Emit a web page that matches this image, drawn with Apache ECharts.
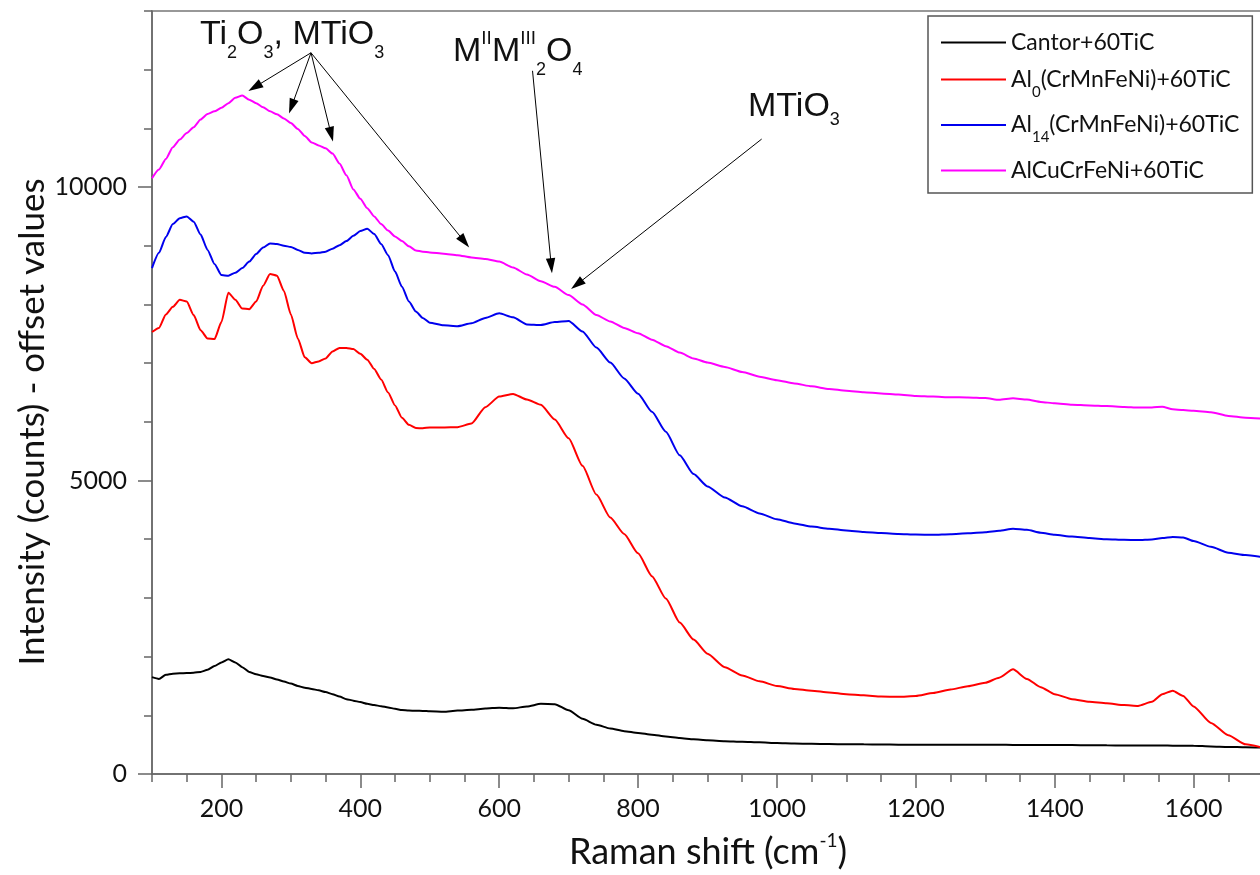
<!DOCTYPE html>
<html>
<head>
<meta charset="utf-8">
<title>Raman spectra</title>
<script src="https://cdn.jsdelivr.net/npm/echarts@6/dist/echarts.min.js"></script>
<style>
  html, body { margin: 0; padding: 0; background: #fff; }
  #chart { width: 1260px; height: 875px; }
</style>
</head>
<body>
<div id="chart"></div>
<script>
// Raman shift (cm-1), shared by all four spectra
const ramanShift = [
  100, 110, 120, 130, 140, 150, 160, 170, 180, 190,
  200, 210, 220, 230, 240, 250, 260, 270, 280, 290,
  300, 310, 320, 330, 340, 350, 360, 370, 380, 390,
  400, 410, 420, 430, 440, 450, 460, 470, 480, 490,
  500, 520, 540, 560, 580, 600, 620, 640, 660, 680,
  700, 720, 740, 760, 780, 800, 820, 840, 860, 880,
  900, 925, 950, 975, 1000, 1025, 1050, 1075, 1100, 1125,
  1150, 1175, 1200, 1225, 1250, 1275, 1300, 1320, 1340, 1360,
  1380, 1400, 1425, 1450, 1475, 1500, 1520, 1540, 1555, 1570,
  1585, 1600, 1625, 1650, 1675, 1700
];

// intensities (counts, offset)
const cantor = [
  1650, 1620, 1690, 1710, 1715, 1720, 1725, 1740, 1775, 1840,
  1900, 1955, 1900, 1820, 1740, 1700, 1670, 1645, 1610, 1575,
  1540, 1500, 1470, 1450, 1425, 1395, 1360, 1320, 1275, 1250,
  1225, 1195, 1175, 1155, 1135, 1110, 1090, 1080, 1078, 1075,
  1068, 1062, 1080, 1095, 1115, 1130, 1120, 1150, 1195, 1190,
  1085, 940, 840, 775, 730, 700, 670, 640, 615, 590,
  575, 560, 550, 540, 528, 520, 515, 510, 508, 505,
  503, 500, 500, 500, 500, 498, 498, 497, 496, 495,
  494, 493, 492, 490, 488, 487, 485, 485, 484, 483,
  482, 480, 470, 462, 455, 450
];
const al0 = [
  7530, 7600, 7830, 7960, 8080, 8050, 7820, 7560, 7420, 7410,
  7700, 8200, 8080, 7930, 7920, 8050, 8320, 8520, 8490, 8230,
  7830, 7420, 7100, 7000, 7030, 7080, 7200, 7260, 7260, 7240,
  7160, 7060, 6900, 6720, 6500, 6280, 6070, 5950, 5895, 5890,
  5905, 5905, 5910, 5970, 6250, 6430, 6475, 6380, 6290, 6040,
  5720, 5250, 4760, 4370, 4090, 3760, 3370, 2990, 2580, 2290,
  2050, 1820, 1680, 1580, 1500, 1450, 1420, 1390, 1360, 1340,
  1320, 1315, 1330, 1380, 1440, 1495, 1555, 1640, 1783, 1620,
  1480, 1360, 1275, 1230, 1205, 1175, 1160, 1230, 1360, 1420,
  1330, 1150, 870, 660, 505, 450
];
const al14 = [
  8620, 8880, 9150, 9370, 9470, 9500, 9410, 9190, 8930, 8690,
  8500, 8490, 8540, 8620, 8730, 8860, 8970, 9040, 9030, 9000,
  8980, 8930, 8880, 8870, 8880, 8900, 8950, 9010, 9080, 9170,
  9250, 9290, 9200, 9030, 8840, 8560, 8300, 8050, 7880, 7770,
  7690, 7645, 7630, 7680, 7770, 7850, 7780, 7660, 7650, 7700,
  7720, 7540, 7265, 7010, 6740, 6480, 6170, 5830, 5430, 5110,
  4900, 4710, 4560, 4440, 4340, 4270, 4215, 4180, 4150, 4125,
  4105, 4090, 4080, 4075, 4085, 4100, 4120, 4145, 4180, 4160,
  4110, 4075, 4045, 4020, 4000, 3990, 3985, 3995, 4020, 4040,
  4030, 3970, 3870, 3770, 3730, 3695
];
const alCu = [
  10150, 10300, 10480, 10680, 10810, 10920, 11020, 11150, 11245, 11290,
  11350, 11430, 11520, 11560, 11490, 11430, 11360, 11290, 11240, 11170,
  11090, 10990, 10870, 10760, 10710, 10660, 10570, 10400, 10200, 9960,
  9800, 9640, 9500, 9370, 9260, 9160, 9080, 8990, 8920, 8900,
  8885, 8865, 8840, 8800, 8775, 8730, 8630, 8510, 8395, 8300,
  8160, 8000, 7820, 7710, 7600, 7510, 7400, 7290, 7180, 7080,
  7010, 6935, 6850, 6770, 6710, 6655, 6605, 6560, 6530, 6505,
  6485, 6465, 6440, 6430, 6420, 6415, 6405, 6375, 6400, 6380,
  6340, 6315, 6290, 6280, 6270, 6255, 6245, 6245, 6257, 6215,
  6200, 6190, 6165, 6100, 6070, 6055
];

const seriesNames = ['Cantor+60TiC', 'Al0(CrMnFeNi)+60TiC', 'Al14(CrMnFeNi)+60TiC', 'AlCuCrFeNi+60TiC'];
const legendLabels = [
  '{n|Cantor+60TiC}',
  '{n|Al}{s|0}{n|(CrMnFeNi)+60TiC}',
  '{n|Al}{s|14}{n|(CrMnFeNi)+60TiC}',
  '{n|AlCuCrFeNi+60TiC}'
];
const seriesColors = ['#000000', '#ff0000', '#0000ee', '#ff00ff'];

const xMajorTicks = [200, 400, 600, 800, 1000, 1200, 1400, 1600];
const yMajorTicks = [0, 5000, 10000];

// annotation arrows, [from, to] in axis units
const arrows = [
  [[329, 12288], [248, 11704]],
  [[329, 12288], [301, 11373]],
  [[329, 12288], [358, 10899]],
  [[329, 12288], [550, 9070]],
  [[648, 11981], [675, 8659]],
  [[978, 10818], [712, 8341]]
];

const chart = echarts.init(document.getElementById('chart'), null, { renderer: 'canvas' });

const axisColor = '#666';
const labelFont = { fontFamily: 'Lato', fontSize: 25, color: '#111', formatter: v => String(v) };
const annoFont = 'Liberation Sans';
const annoRich = {
  m: { fontFamily: annoFont, fontSize: 34, lineHeight: 55, verticalAlign: 'middle', fill: '#111' },
  k: { fontFamily: annoFont, fontSize: 34, lineHeight: 44, verticalAlign: 'middle', fill: '#111' },
  s: { fontFamily: annoFont, fontSize: 18, verticalAlign: 'bottom', fill: '#111' },
  p: { fontFamily: annoFont, fontSize: 19, verticalAlign: 'top', padding: [5, 0, 0, 0], fill: '#111' }
};

const valueAxisBase = {
  type: 'value',
  splitLine: { show: false },
  axisLine: { show: true, lineStyle: { color: axisColor, width: 1.5 } }
};

const series = [cantor, al0, al14, alCu].map((vals, i) => ({
  name: seriesNames[i],
  type: 'line',
  xAxisIndex: 0,
  yAxisIndex: 0,
  symbol: 'none',
  smooth: 0.2,
  smoothMonotone: 'x',
  lineStyle: { color: seriesColors[i], width: 2 },
  itemStyle: { color: seriesColors[i] },
  data: ramanShift.map((x, j) => [x, vals[j]])
}));

series[0].markLine = {
  silent: true,
  animation: false,
  symbol: ['none', 'path://M5,0L10,16L0,16Z'],
  symbolSize: 15,
  symbolKeepAspect: true,
  label: { show: false },
  lineStyle: { color: '#000', width: 1, type: 'solid' },
  emphasis: { disabled: true },
  data: arrows.map(a => [{ coord: a[0] }, { coord: a[1] }])
};

chart.setOption({
  animation: false,
  backgroundColor: '#fff',
  grid: {
    left: 152, top: 11, width: 1111, height: 763,
    show: true, borderColor: '#777', borderWidth: 1.5,
    outerBoundsMode: 'none'
  },
  legend: {
    data: seriesNames,
    orient: 'vertical',
    left: 928, top: 16,
    padding: [15, 13, 11, 13],
    itemGap: 14,
    icon: 'rect',
    itemWidth: 65,
    itemHeight: 2,
    selectedMode: false,
    borderColor: '#555',
    borderWidth: 1.5,
    formatter: name => legendLabels[seriesNames.indexOf(name)],
    textStyle: {
      rich: {
        n: { fontFamily: 'Lato', fontSize: 23, lineHeight: 40, verticalAlign: 'middle', color: '#111' },
        s: { fontFamily: 'Lato', fontSize: 15, lineHeight: 16, verticalAlign: 'bottom', color: '#111' }
      }
    }
  },
  xAxis: [
    Object.assign({}, valueAxisBase, {
      min: 100, max: 1700, interval: 50,
      axisTick: { show: true, inside: false, length: 8, lineStyle: { color: axisColor, width: 1.5 } },
      axisLabel: { show: false }
    }),
    Object.assign({}, valueAxisBase, {
      min: 100, max: 1700, position: 'bottom',
      axisLine: { show: false },
      axisTick: { show: true, length: 14, customValues: xMajorTicks, lineStyle: { color: axisColor, width: 1.5 } },
      axisLabel: Object.assign({ customValues: xMajorTicks, margin: 22 }, labelFont)
    })
  ],
  yAxis: [
    Object.assign({}, valueAxisBase, {
      min: 0, max: 13000, interval: 1000,
      axisTick: { show: true, inside: false, length: 8, lineStyle: { color: axisColor, width: 1.5 } },
      axisLabel: { show: false }
    }),
    Object.assign({}, valueAxisBase, {
      min: 0, max: 13000, position: 'left',
      axisLine: { show: false },
      axisTick: { show: true, length: 14, customValues: yMajorTicks, lineStyle: { color: axisColor, width: 1.5 } },
      axisLabel: Object.assign({ customValues: yMajorTicks, margin: 25 }, labelFont)
    })
  ],
  graphic: [
    {
      type: 'text', x: 33, y: 422, rotation: Math.PI / 2, silent: true,
      style: { text: 'Intensity (counts) - offset values', font: '35px Lato', fill: '#111', align: 'center', verticalAlign: 'middle' }
    },
    {
      type: 'text', x: 708, y: 852, silent: true,
      style: {
        text: '{a|Raman shift (cm}{b|-1}{a|)}',
        align: 'center', verticalAlign: 'middle',
        rich: {
          a: { fontFamily: 'Lato', fontSize: 36, lineHeight: 42, verticalAlign: 'middle', fill: '#111' },
          b: { fontFamily: 'Lato', fontSize: 19, verticalAlign: 'top', fill: '#111' }
        }
      }
    },
    {
      type: 'text', x: 200, y: 7, silent: true,
      style: { text: '{m|Ti}{s|2}{m|O}{s|3}{m|, MTiO}{s|3}', rich: annoRich, align: 'left', verticalAlign: 'top' }
    },
    {
      type: 'text', x: 453, y: 24, silent: true,
      style: { text: '{m|M}{p|II}{m|M}{p|III}{s|2}{m|O}{s|4}', rich: annoRich, align: 'left', verticalAlign: 'top' }
    },
    {
      type: 'text', x: 748, y: 85, silent: true,
      style: { text: '{k|MTiO}{s|3}', rich: annoRich, align: 'left', verticalAlign: 'top' }
    }
  ],
  series: series
});
</script>
</body>
</html>
